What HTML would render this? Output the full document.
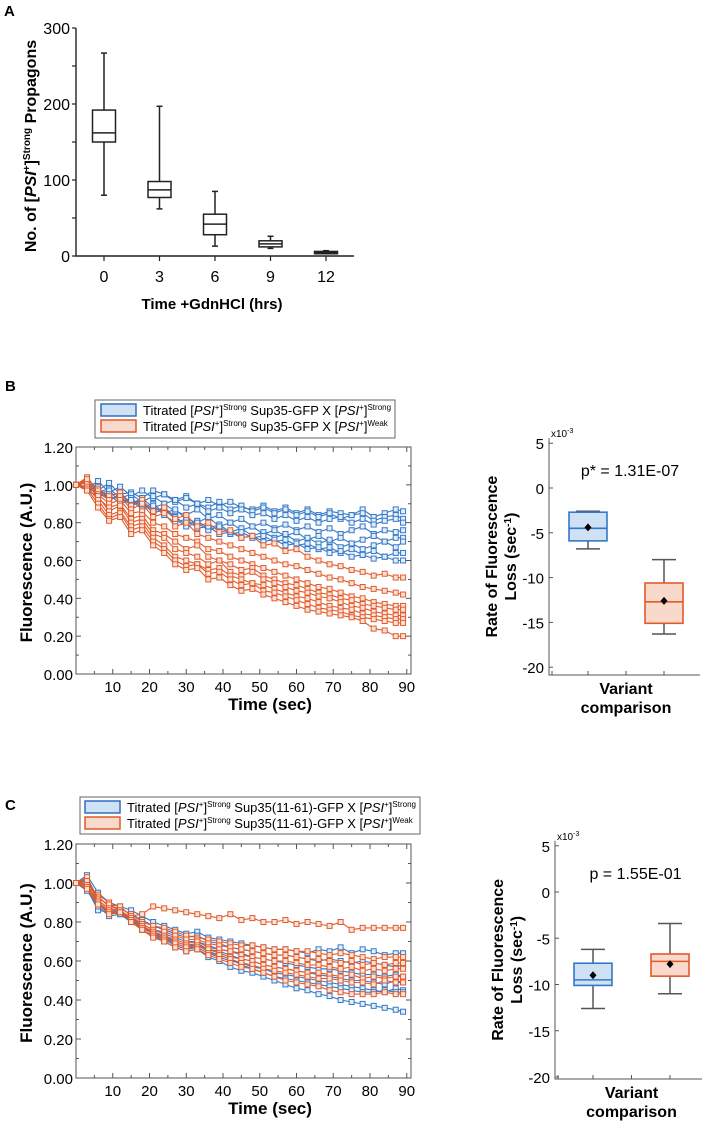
<!DOCTYPE html>
<html><head><meta charset="utf-8"><style>
html,body{margin:0;padding:0;background:#fff}
svg{display:block;font-family:"Liberation Sans",Arial,sans-serif}
</style></head><body>
<svg id="fig" width="708" height="1122" viewBox="0 0 708 1122">
<text x="4" y="16" font-size="15" font-weight="bold">A</text>
<text x="5" y="391" font-size="15" font-weight="bold">B</text>
<text x="5" y="810" font-size="15" font-weight="bold">C</text>
<text transform="translate(36,146) rotate(-90)" text-anchor="middle" font-size="16" font-weight="bold">No. of [<tspan font-style="italic">PSI</tspan><tspan font-size="10" dy="-6">+</tspan><tspan dy="6">]</tspan><tspan font-size="10" dy="-6">Strong</tspan><tspan dy="6"> Propagons</tspan></text>
<text x="212" y="309" text-anchor="middle" font-size="15" font-weight="bold">Time +GdnHCl (hrs)</text>
<g id="gA"></g>
<g>
<rect x="95" y="400" width="300" height="38" fill="#fff" stroke="#666" stroke-width="1"/>
<rect x="101" y="404" width="35" height="12" fill="#cfe2f5" stroke="#2f6fc0" stroke-width="1.5"/>
<rect x="101" y="420" width="35" height="12" fill="#f9d9cc" stroke="#e05a2b" stroke-width="1.5"/>
<text x="143" y="415" font-size="13">Titrated [<tspan font-style="italic">PSI</tspan><tspan font-size="8" dy="-5">+</tspan><tspan dy="5">]</tspan><tspan font-size="8" dy="-5">Strong</tspan><tspan dy="5"> Sup35-GFP X [</tspan><tspan font-style="italic">PSI</tspan><tspan font-size="8" dy="-5">+</tspan><tspan dy="5">]</tspan><tspan font-size="8" dy="-5">Strong</tspan></text>
<text x="143" y="431" font-size="13">Titrated [<tspan font-style="italic">PSI</tspan><tspan font-size="8" dy="-5">+</tspan><tspan dy="5">]</tspan><tspan font-size="8" dy="-5">Strong</tspan><tspan dy="5"> Sup35-GFP X [</tspan><tspan font-style="italic">PSI</tspan><tspan font-size="8" dy="-5">+</tspan><tspan dy="5">]</tspan><tspan font-size="8" dy="-5">Weak</tspan></text>
</g>
<g>
<rect x="80" y="797" width="340" height="37" fill="#fff" stroke="#666" stroke-width="1"/>
<rect x="85" y="801" width="35" height="12" fill="#cfe2f5" stroke="#2f6fc0" stroke-width="1.5"/>
<rect x="85" y="817" width="35" height="12" fill="#f9d9cc" stroke="#e05a2b" stroke-width="1.5"/>
<text x="127" y="812" font-size="13">Titrated [<tspan font-style="italic">PSI</tspan><tspan font-size="8" dy="-5">+</tspan><tspan dy="5">]</tspan><tspan font-size="8" dy="-5">Strong</tspan><tspan dy="5"> Sup35(11-61)-GFP X [</tspan><tspan font-style="italic">PSI</tspan><tspan font-size="8" dy="-5">+</tspan><tspan dy="5">]</tspan><tspan font-size="8" dy="-5">Strong</tspan></text>
<text x="127" y="828" font-size="13">Titrated [<tspan font-style="italic">PSI</tspan><tspan font-size="8" dy="-5">+</tspan><tspan dy="5">]</tspan><tspan font-size="8" dy="-5">Strong</tspan><tspan dy="5"> Sup35(11-61)-GFP X [</tspan><tspan font-style="italic">PSI</tspan><tspan font-size="8" dy="-5">+</tspan><tspan dy="5">]</tspan><tspan font-size="8" dy="-5">Weak</tspan></text>
</g>
<g id="gB"></g>
<g id="gC"></g>
<g id="gBR"></g>
<g id="gCR"></g>
</svg>
<script>
const catsA = ["0","3","6","9","12"];
const whiskLoA = [80,62,13,10,3];
const whiskHiA = [267,197,85,26,7];
const q1A = [150,77,28,12,3];
const q3A = [192,98,55,20,6];
const medA = [162,87,42,16,5];
const yTicksA = [0,100,200,300];

const timesLine = [0,3,6,9,12,15,18,21,24,27,30,33,36,39,42,45,48,51,54,57,60,63,66,69,72,75,78,81,84,87,89];
const bBlue = [
[100,99,97,101,95,96,93,97,95,92,94,90,92,89,91,88,87,89,86,88,85,87,84,86,85,84,87,83,85,87,86],
[100,98,102,96,99,94,97,93,95,91,93,90,88,91,87,89,86,88,85,87,84,86,83,85,82,84,85,81,83,84,82],
[100,101,96,98,93,95,91,94,90,92,88,90,86,88,85,87,84,85,82,84,81,83,80,82,83,80,82,79,81,82,80],
[100,97,99,92,95,90,93,88,90,86,84,87,82,84,80,82,78,80,77,79,76,78,75,77,74,76,78,74,76,75,76],
[100,99,95,97,91,93,88,90,85,87,82,80,83,78,80,76,78,74,76,73,75,71,73,70,72,69,71,73,70,72,72],
[100,102,97,94,96,90,92,86,88,83,79,81,77,79,75,77,73,75,72,74,70,72,69,71,67,69,66,68,70,67,70],
[100,98,96,92,94,89,91,85,87,82,78,80,76,78,74,75,72,73,70,71,68,69,66,67,64,66,63,65,62,64,64],
[100,97,94,95,90,92,87,89,84,80,82,77,78,74,75,72,73,70,71,68,69,66,67,64,65,62,63,61,62,60,60]];
const bOrange = [
[100,103,98,94,96,89,92,86,88,82,84,78,80,75,76,72,73,68,69,65,66,62,60,58,57,55,54,52,53,51,51],
[100,104,97,92,94,87,90,83,85,78,80,74,72,70,68,66,64,62,60,58,57,55,53,51,50,48,46,45,44,43,42],
[100,102,95,90,92,85,86,80,78,74,72,70,66,65,62,60,58,56,54,52,50,48,46,45,43,41,40,38,37,36,36],
[100,101,93,88,90,82,84,76,74,70,66,68,62,60,58,55,56,52,50,48,47,45,43,42,40,39,37,36,35,34,34],
[100,103,94,86,89,80,82,74,72,66,64,62,58,60,54,52,54,50,48,46,44,43,41,40,38,36,35,33,32,31,31],
[100,99,92,84,86,78,80,72,68,62,60,58,55,56,52,50,48,47,45,43,41,40,38,36,35,34,32,31,30,29,29],
[100,98,90,82,85,76,78,70,66,60,57,58,53,54,50,47,48,44,43,41,39,37,35,34,33,31,30,29,28,27,27],
[100,97,88,81,83,74,76,68,64,58,55,56,50,51,47,44,45,42,40,38,36,34,33,32,31,30,28,24,23,20,20]];
const cBlue = [
[100,104,95,90,88,86,83,80,78,76,74,75,72,71,70,69,68,67,66,66,65,64,66,65,67,64,66,65,63,64,64],
[100,101,93,88,87,84,81,78,76,74,72,73,70,69,67,66,65,64,63,63,62,61,60,61,60,59,60,59,58,57,58],
[100,98,91,87,86,82,79,76,74,72,70,70,68,66,65,64,62,61,60,59,58,57,56,56,55,54,53,53,52,53,52],
[100,102,90,84,85,81,78,75,73,70,68,69,66,65,63,61,60,58,57,56,55,54,53,52,51,50,50,49,48,50,49],
[100,97,86,85,84,80,77,74,71,68,66,67,64,62,60,59,57,56,54,53,52,51,50,49,48,47,46,45,44,46,45],
[100,96,88,83,84,80,76,73,70,67,65,66,62,60,57,55,54,52,50,48,46,45,43,42,40,39,38,37,36,35,34],
[100,99,89,86,85,81,77,75,72,69,67,68,65,63,61,58,56,54,52,51,50,49,48,47,46,45,44,44,45,44,44]];
const cOrange = [
[100,98,94,90,85,83,84,88,87,86,85,84,83,82,84,81,82,80,80,81,79,80,79,78,80,76,77,77,77,77,77],
[100,100,93,88,87,84,80,78,77,75,73,72,71,70,69,68,68,67,66,66,65,65,64,63,64,63,62,61,62,62,62],
[100,103,92,89,88,83,79,76,75,73,71,71,69,68,67,66,65,64,63,63,62,61,61,60,59,60,58,59,58,59,59],
[100,101,91,87,86,82,78,75,73,71,69,70,67,66,65,63,62,61,60,60,59,58,58,57,56,57,55,56,55,56,56],
[100,99,90,86,86,81,77,74,72,70,68,68,66,64,62,61,60,58,57,56,55,54,54,53,52,53,51,52,51,52,52],
[100,98,90,85,85,80,76,73,71,69,67,67,64,63,61,59,58,56,55,54,53,52,51,51,50,49,49,48,50,49,49],
[100,97,89,84,85,80,76,72,70,67,65,66,63,61,59,57,56,54,52,50,49,48,47,45,44,43,43,43,44,43,43]];
const yTickLine = ["0.00","0.20","0.40","0.60","0.80","1.00","1.20"];
const xTickLine = [10,20,30,40,50,60,70,80,90];

const brWhiskHi = [-2.6,-8.0];
const brWhiskLo = [-6.8,-16.3];
const brQ3 = [-2.7,-10.6];
const brQ1 = [-5.9,-15.1];
const brMed = [-4.5,-12.7];
const brMean = [-4.4,-12.6];
const crWhiskHi = [-6.2,-3.4];
const crWhiskLo = [-12.6,-11.0];
const crQ3 = [-7.7,-6.7];
const crQ1 = [-10.1,-9.1];
const crMed = [-9.5,-7.5];
const crMean = [-9.0,-7.8];
const yTickRate = [5,0,-5,-10,-15,-20];

const NS="http://www.w3.org/2000/svg";
function mk(parent,tag,attrs){const e=document.createElementNS(NS,tag);for(const k in attrs)e.setAttribute(k,attrs[k]);parent.appendChild(e);return e;}

(function(){
const g=document.getElementById('gA');
const y=v=>256-v*(228/300);
const x=i=>104+i*55.5;
const ax=mk(g,'path',{d:'M76,28 V256 H354',stroke:'#222','stroke-width':1.4,fill:'none'});


for(let v=0;v<=300;v+=50){mk(g,'line',{x1:72,x2:76,y1:y(v),y2:y(v),stroke:'#222','stroke-width':1.2});}
yTicksA.forEach(v=>{const t=mk(g,'text',{x:70,y:y(v)+6,'text-anchor':'end','font-size':16});t.textContent=v;

});
catsA.forEach((c,i)=>{
mk(g,'line',{x1:x(i),x2:x(i),y1:256,y2:261,stroke:'#222','stroke-width':1.2});
const t=mk(g,'text',{x:x(i),y:282,'text-anchor':'middle','font-size':16});t.textContent=c;


const b=mk(g,'g',{stroke:'#222','stroke-width':1.5,fill:'none'});


mk(b,'line',{x1:x(i),x2:x(i),y1:y(whiskHiA[i]),y2:y(q3A[i])});
mk(b,'line',{x1:x(i),x2:x(i),y1:y(whiskLoA[i]),y2:y(q1A[i])});
mk(b,'line',{x1:x(i)-3,x2:x(i)+3,y1:y(whiskHiA[i]),y2:y(whiskHiA[i])});
mk(b,'line',{x1:x(i)-3,x2:x(i)+3,y1:y(whiskLoA[i]),y2:y(whiskLoA[i])});
mk(b,'rect',{x:x(i)-11.5,y:y(q3A[i]),width:23,height:Math.max(1.5,y(q1A[i])-y(q3A[i])),fill:'#fff'});
mk(b,'line',{x1:x(i)-11.5,x2:x(i)+11.5,y1:y(medA[i]),y2:y(medA[i])});
});
})();

function linePanel(gid,top,bottom,series,key){
const g=document.getElementById(gid);
const L=76,R=411;
const x=t=>L+t*3.675;
const y=v=>bottom-(v/1.2)*(bottom-top);
mk(g,'rect',{x:L,y:top,width:R-L,height:bottom-top,fill:'none',stroke:'#555','stroke-width':1});
for(let k=0;k<=12;k++){const v=k*0.1,len=(k%2==0)?5:3;
mk(g,'line',{x1:L,x2:L+len,y1:y(v),y2:y(v),stroke:'#555'});
mk(g,'line',{x1:R,x2:R-len,y1:y(v),y2:y(v),stroke:'#555'});}
for(let t=5;t<=90;t+=5){const len=(t%10==0)?5:3;
mk(g,'line',{x1:x(t),x2:x(t),y1:bottom,y2:bottom-len,stroke:'#555'});
mk(g,'line',{x1:x(t),x2:x(t),y1:top,y2:top+len,stroke:'#555'});}
yTickLine.forEach(s=>{const t=mk(g,'text',{x:L-3,y:y(parseFloat(s))+6,'text-anchor':'end','font-size':15});t.textContent=s;

});
xTickLine.forEach(v=>{const t=mk(g,'text',{x:x(v),y:bottom+18,'text-anchor':'middle','font-size':15});t.textContent=v;

});
const xt=mk(g,'text',{x:270,y:bottom+36,'text-anchor':'middle','font-size':17,'font-weight':'bold'});xt.textContent='Time (sec)';


const yt=mk(g,'text',{transform:`translate(32,${(top+bottom)/2+2}) rotate(-90)`,'text-anchor':'middle','font-size':17,'font-weight':'bold'});yt.textContent='Fluorescence (A.U.)';


series.forEach(([arr,col,fill,nm])=>{
arr.forEach((vals,li)=>{
const sg=mk(g,'g',{});


const d=vals.map((v,i)=>(i?'L':'M')+x(timesLine[i]).toFixed(1)+','+y(v/100).toFixed(1)).join('');
mk(sg,'path',{d:d,fill:'none',stroke:col,'stroke-width':1.1});
vals.forEach((v,i)=>mk(sg,'rect',{x:x(timesLine[i])-2.5,y:y(v/100)-2.5,width:5,height:5,fill:fill,stroke:col,'stroke-width':1}));
});});
}
linePanel('gB',447,674,[[bBlue,'#3478c8','#e3eef9','blue'],[bOrange,'#e35a2a','#fbe3d9','orange']],'b');
linePanel('gC',844,1078,[[cBlue,'#3478c8','#e3eef9','blue'],[cOrange,'#e35a2a','#fbe3d9','orange']],'c');

function ratePanel(gid,axX,zeroY,per5,bottom,right,cx,d,ptext,key){
const g=document.getElementById(gid);
const y=v=>zeroY-v*(per5/5);
const topY=y(5)-5;
mk(g,'path',{d:`M${axX},${topY} V${bottom} H${right}`,fill:'none',stroke:'#555','stroke-width':1});
yTickRate.forEach(v=>{mk(g,'line',{x1:axX,x2:axX+4,y1:y(v),y2:y(v),stroke:'#555'});
const t=mk(g,'text',{x:axX-5,y:y(v)+6,'text-anchor':'end','font-size':15});t.textContent=v;

});
const mid=(cx[0]+cx[1])/2;
[axX+3,cx[0],mid,cx[1]].forEach(xx=>mk(g,'line',{x1:xx,x2:xx,y1:bottom,y2:bottom-4,stroke:'#555'}));
const ex=mk(g,'text',{x:axX+2,y:topY-1,'font-size':10});ex.innerHTML='x10<tspan font-size="7" dy="-4">-3</tspan>';


const p=mk(g,'text',{x:mid+4,y:y(5)+33,'text-anchor':'middle','font-size':16});p.textContent=ptext;


const yt=mk(g,'text',{transform:`translate(${axX-52},${(topY+bottom)/2}) rotate(-90)`,'text-anchor':'middle','font-size':16,'font-weight':'bold'});yt.textContent='Rate of Fluorescence';


const yt2=mk(g,'text',{transform:`translate(${axX-33},${(topY+bottom)/2}) rotate(-90)`,'text-anchor':'middle','font-size':16,'font-weight':'bold'});yt2.innerHTML='Loss (sec<tspan font-size="10" dy="-5">-1</tspan><tspan dy="5">)</tspan>';


const v1=mk(g,'text',{x:mid,y:bottom+19,'text-anchor':'middle','font-size':16,'font-weight':'bold'});v1.textContent='Variant';


const v2=mk(g,'text',{x:mid,y:bottom+38,'text-anchor':'middle','font-size':16,'font-weight':'bold'});v2.textContent='comparison';


const cols=[['#3478c8','#cfe2f5'],['#e35a2a','#f9d9cc']];
[0,1].forEach(i=>{
const b=mk(g,'g',{});


const c=cx[i];
mk(b,'line',{x1:c,x2:c,y1:y(d.hi[i]),y2:y(d.lo[i]),stroke:'#555','stroke-width':1.5});
mk(b,'line',{x1:c-12,x2:c+12,y1:y(d.hi[i]),y2:y(d.hi[i]),stroke:'#555','stroke-width':1.5});
mk(b,'line',{x1:c-12,x2:c+12,y1:y(d.lo[i]),y2:y(d.lo[i]),stroke:'#555','stroke-width':1.5});
mk(b,'rect',{x:c-19,y:y(d.q3[i]),width:38,height:y(d.q1[i])-y(d.q3[i]),fill:cols[i][1],stroke:cols[i][0],'stroke-width':1.6});
mk(b,'line',{x1:c-19,x2:c+19,y1:y(d.med[i]),y2:y(d.med[i]),stroke:cols[i][0],'stroke-width':1.6});
const m=y(d.mean[i]);
mk(b,'path',{d:`M${c},${m-4}L${c+3.5},${m}L${c},${m+4}L${c-3.5},${m}Z`,fill:'#000'});
});
}
ratePanel('gBR',549,488,44.8,675,700,[588,664],{hi:brWhiskHi,lo:brWhiskLo,q3:brQ3,q1:brQ1,med:brMed,mean:brMean},'p* = 1.31E-07','b');
ratePanel('gCR',555,892,46.25,1079,702,[593,670],{hi:crWhiskHi,lo:crWhiskLo,q3:crQ3,q1:crQ1,med:crMed,mean:crMean},'p = 1.55E-01','c');
</script>
</body></html>
